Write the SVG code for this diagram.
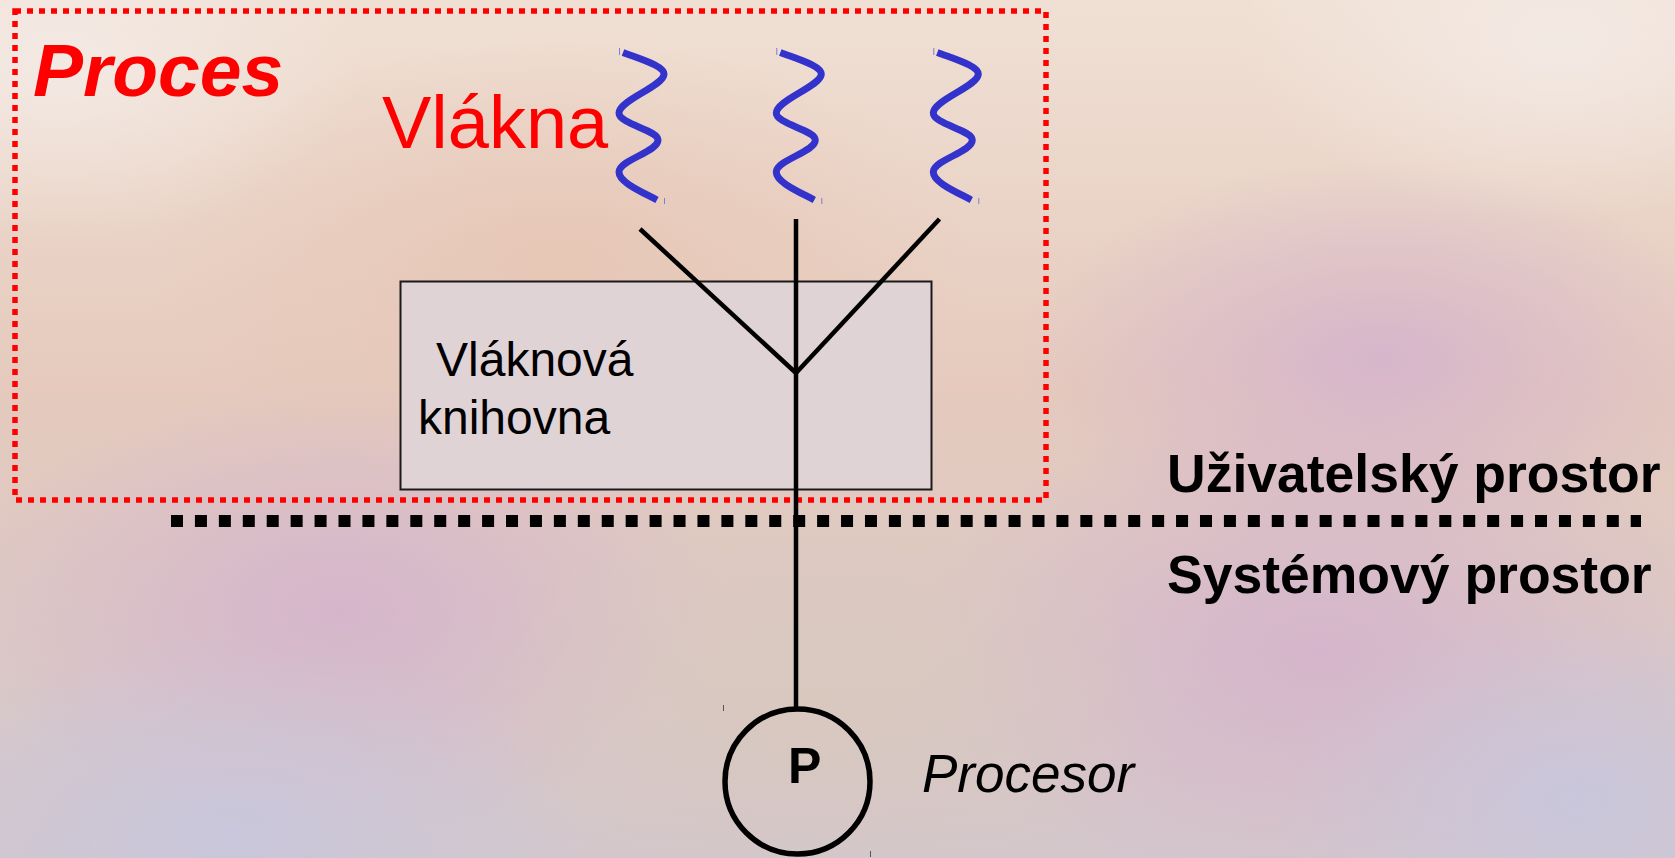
<svg xmlns="http://www.w3.org/2000/svg" width="1675" height="858" viewBox="0 0 1675 858">
<defs>
<linearGradient id="bg" x1="0" y1="0" x2="0" y2="1">
<stop offset="0" stop-color="#f0e0d4"/>
<stop offset="0.45" stop-color="#e5cabd"/>
<stop offset="1" stop-color="#d3c7cc"/>
</linearGradient>
<radialGradient id="b1" cx="0.5" cy="0.5" r="0.5">
<stop offset="0" stop-color="#d4b3cc" stop-opacity="0.9"/>
<stop offset="1" stop-color="#d4b3cc" stop-opacity="0"/>
</radialGradient>
<radialGradient id="b2" cx="0.5" cy="0.5" r="0.5">
<stop offset="0" stop-color="#c8c6dc" stop-opacity="0.95"/>
<stop offset="1" stop-color="#c8c6dc" stop-opacity="0"/>
</radialGradient>
<radialGradient id="b3" cx="0.5" cy="0.5" r="0.5">
<stop offset="0" stop-color="#e6c4b2" stop-opacity="0.8"/>
<stop offset="1" stop-color="#e6c4b2" stop-opacity="0"/>
</radialGradient>
<radialGradient id="b4" cx="0.5" cy="0.5" r="0.5">
<stop offset="0" stop-color="#f4ebe6" stop-opacity="0.9"/>
<stop offset="1" stop-color="#f4ebe6" stop-opacity="0"/>
</radialGradient>
<radialGradient id="b5" cx="0.5" cy="0.5" r="0.5">
<stop offset="0" stop-color="#d8c8bc" stop-opacity="0.8"/>
<stop offset="1" stop-color="#d8c8bc" stop-opacity="0"/>
</radialGradient>
<style>
.sans{font-family:"Liberation Sans",Arial,sans-serif}
.wave{fill:none;stroke:#3333cc;stroke-width:7}
.tick{stroke:#7d7dd8;stroke-width:1}
.ctick{stroke:#555;stroke-width:1}
.conn{fill:none;stroke:#000;stroke-width:4.5}
</style>
</defs>

<g id="background">
<rect width="1675" height="858" fill="url(#bg)"/>
<ellipse cx="1380" cy="360" rx="360" ry="200" fill="url(#b1)"/>
<ellipse cx="340" cy="610" rx="380" ry="230" fill="url(#b1)"/>
<ellipse cx="1320" cy="650" rx="400" ry="250" fill="url(#b1)"/>
<ellipse cx="230" cy="830" rx="360" ry="190" fill="url(#b2)"/>
<ellipse cx="1580" cy="800" rx="300" ry="190" fill="url(#b2)"/>
<ellipse cx="560" cy="260" rx="420" ry="220" fill="url(#b3)"/>
<ellipse cx="60" cy="60" rx="300" ry="180" fill="url(#b4)"/>
<ellipse cx="1560" cy="40" rx="320" ry="180" fill="url(#b4)"/>
<ellipse cx="820" cy="700" rx="360" ry="200" fill="url(#b5)"/>
</g>

<g id="process">
<rect x="15" y="11" width="1031" height="489" fill="none" stroke="#ff0000" stroke-width="5.5" stroke-dasharray="6 6"/>
<text class="sans" x="33" y="96" font-size="75" font-weight="bold" font-style="italic" fill="#ff0000">Proces</text>
</g>

<g id="threads">
<text class="sans" x="382" y="148" font-size="74" fill="#ff0000">Vlákna</text>
<g id="thread1">
<path class="wave" d="M623,52.5 C643,60 664,66 664,74 C664,86 619,100 619,113 C619,124 658,130 658,140 C658,152 619,160 619,172 C619,182 640,191 657,200"/>
<line class="tick" x1="619.5" y1="48" x2="619.5" y2="55"/>
<line class="tick" x1="664.5" y1="198" x2="664.5" y2="204"/>
</g>
<g id="thread2" transform="translate(157.3,0)">
<path class="wave" d="M623,52.5 C643,60 664,66 664,74 C664,86 619,100 619,113 C619,124 658,130 658,140 C658,152 619,160 619,172 C619,182 640,191 657,200"/>
<line class="tick" x1="619.5" y1="48" x2="619.5" y2="55"/>
<line class="tick" x1="664.5" y1="198" x2="664.5" y2="204"/>
</g>
<g id="thread3" transform="translate(314.3,0)">
<path class="wave" d="M623,52.5 C643,60 664,66 664,74 C664,86 619,100 619,113 C619,124 658,130 658,140 C658,152 619,160 619,172 C619,182 640,191 657,200"/>
<line class="tick" x1="619.5" y1="48" x2="619.5" y2="55"/>
<line class="tick" x1="664.5" y1="198" x2="664.5" y2="204"/>
</g>
</g>

<g id="library">
<rect x="400.5" y="281.5" width="531" height="208" fill="#e0d3d6" stroke="#1a1a1a" stroke-width="2"/>
<text class="sans" x="436" y="376" font-size="48" fill="#000">Vláknová</text>
<text class="sans" x="418" y="434" font-size="48" fill="#000">knihovna</text>
</g>

<g id="connectors">
<line class="conn" x1="640" y1="229" x2="796" y2="373"/>
<line class="conn" x1="939.5" y1="219" x2="796" y2="373"/>
<line class="conn" x1="796" y1="219" x2="796" y2="709"/>
</g>

<g id="boundary">
<line x1="171" y1="521" x2="1641" y2="521" stroke="#000" stroke-width="12" stroke-dasharray="12 11.93"/>
</g>

<g id="user-space">
<text class="sans" x="1167" y="492" font-size="53.5" font-weight="bold" fill="#000">Uživatelský prostor</text>
</g>

<g id="system-space">
<text class="sans" x="1167" y="593" font-size="53.5" font-weight="bold" fill="#000">Systémový prostor</text>
</g>

<g id="processor">
<circle cx="797.5" cy="781.5" r="72.5" fill="none" stroke="#000" stroke-width="5.5"/>
<line class="ctick" x1="723.5" y1="705" x2="723.5" y2="711"/>
<line class="ctick" x1="870.5" y1="851" x2="870.5" y2="857"/>
<text class="sans" x="788" y="783" font-size="50" font-weight="bold" fill="#000">P</text>
<text class="sans" x="922" y="792" font-size="53" font-style="italic" fill="#000">Procesor</text>
</g>
</svg>
